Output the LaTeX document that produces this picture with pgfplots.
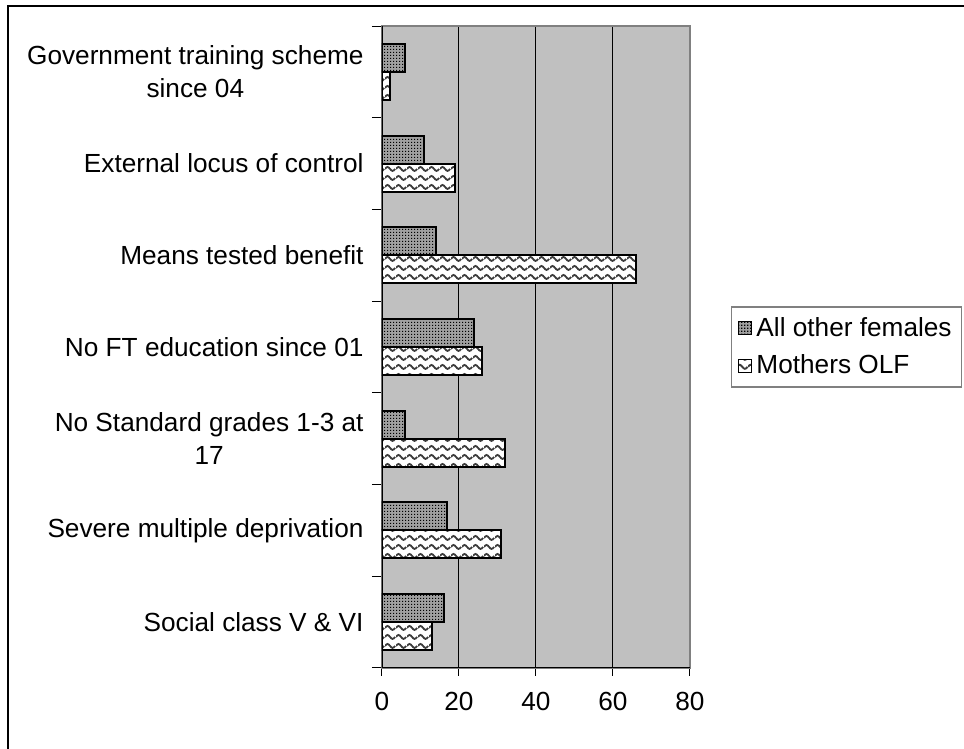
\documentclass[border=0pt]{standalone}
\usepackage{pgfplots}
\pgfplotsset{compat=1.18}
\usepackage{fontspec}
\setmainfont{Liberation Sans}
\usetikzlibrary{patterns}

% wavy fill for the second series
\pgfdeclarepatternformonly{waves}{\pgfpointorigin}{\pgfpoint{5.5pt}{4.5pt}}{\pgfpoint{5.5pt}{4.5pt}}{%
  \pgfsetlinewidth{1pt}%
  \pgfpathmoveto{\pgfpoint{0pt}{2.25pt}}%
  \pgfpathsine{\pgfpoint{1.375pt}{1.1pt}}%
  \pgfpathcosine{\pgfpoint{1.375pt}{-1.1pt}}%
  \pgfpathsine{\pgfpoint{1.375pt}{-1.1pt}}%
  \pgfpathcosine{\pgfpoint{1.375pt}{1.1pt}}%
  \pgfusepath{stroke}%
}
% fine dot screen for the first series
\pgfdeclarepatternformonly{finedots}{\pgfpointorigin}{\pgfpoint{1.5pt}{1.5pt}}{\pgfpoint{1.5pt}{1.5pt}}{%
  \pgfpathrectangle{\pgfpointorigin}{\pgfpoint{0.8pt}{0.8pt}}%
  \pgfusepath{fill}%
}

\definecolor{plotbg}{RGB}{192,192,192}
\definecolor{barmid}{RGB}{160,160,160}
\definecolor{wavecol}{RGB}{60,60,60}
\definecolor{framegray}{RGB}{128,128,128}

\newcommand{\chartfont}{\fontsize{13.1}{16.5}\selectfont}

\begin{document}
\begin{tikzpicture}
\useasboundingbox (0,0) rectangle (482pt,374.5pt);
\begin{axis}[
  at={(191pt,40.5pt)}, anchor=south west,
  scale only axis, width=154pt, height=321pt,
  xmin=0, xmax=80, ymin=-0.5, ymax=6.5,
  xtick={0,20,...,80},
  ytick={0,...,6},
  yticklabels={{Social class V \& VI},{Severe multiple deprivation},{No Standard grades 1-3 at\\17},{No FT education since 01},{Means tested benefit},{External locus of control},{Government training scheme\\since 04}},
  minor ytick={-0.5,0.5,...,6.5},
  tick align=outside,
  xtick pos=bottom, ytick pos=left,
  major tick length=4pt, minor tick length=5pt,
  every major y tick/.style={draw=none},
  tick style={black, line width=0.5pt},
  xmajorgrids, grid style={black, line width=0.5pt},
  axis background/.style={fill=plotbg},
  axis line style={draw=framegray, line width=1pt},
  every tick label/.append style={font=\chartfont},
  /pgf/number format/assume math mode=true,
  yticklabel style={align=center, xshift=-1.7pt},
  xticklabel style={yshift=-4.5pt},
  legend style={at={(1.133,0.5)}, anchor=west, draw=framegray, line width=0.75pt,
    fill=white, font=\chartfont, inner xsep=3pt, inner ysep=3pt, row sep=4pt},
  legend cell align=left,
  sqlegend/.style={legend image code/.code={\draw[##1, line width=0.6pt] (0pt,-3.4pt) rectangle (6.8pt,3.4pt);}},
]
\addplot[xbar, bar width=14pt, bar shift=7pt, draw=black, line width=1pt, fill=barmid,
  postaction={pattern=finedots, pattern color=black}, sqlegend]
  coordinates {(16,0) (17,1) (6,2) (24,3) (14,4) (11,5) (6,6)};
\addlegendentry{All other females}
\addplot[xbar, bar width=14pt, bar shift=-7pt, draw=black, line width=1pt, fill=white,
  postaction={pattern=waves, pattern color=wavecol}, sqlegend]
  coordinates {(13,0) (31,1) (32,2) (26,3) (66,4) (19,5) (2,6)};
\addlegendentry{Mothers OLF}
\draw[black, line width=1pt] (rel axis cs:0,1) -- (rel axis cs:0,0) -- (rel axis cs:1,0);
\end{axis}
% outer frame (top and left edges)
\draw[black, line width=1pt] (4pt,0pt) -- (4pt,371.5pt) -- (482pt,371.5pt);
\end{tikzpicture}
\end{document}
